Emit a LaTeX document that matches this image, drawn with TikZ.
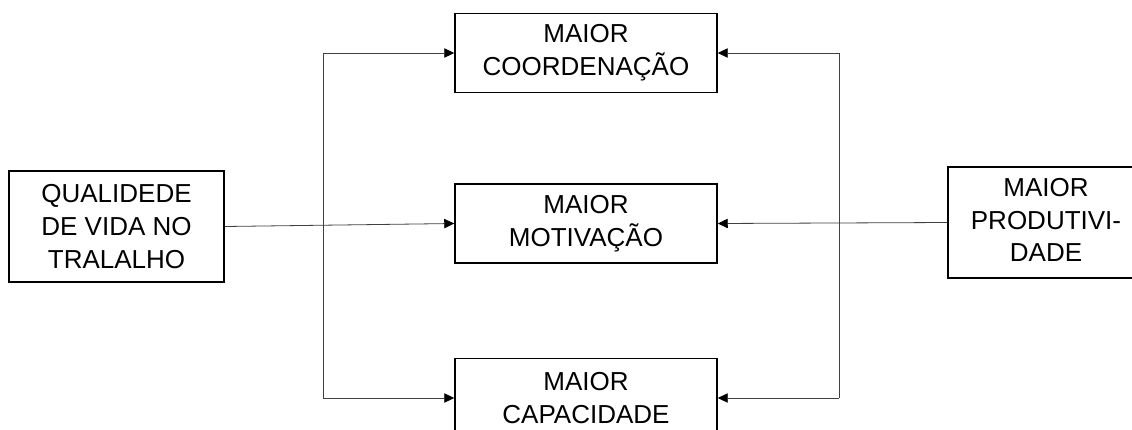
\documentclass[tikz,border=0pt]{standalone}
\usepackage{fontspec}
\setmainfont{Liberation Sans}
\usetikzlibrary{arrows.meta}
\tikzset{
  box/.style={draw=black, line width=1.1pt, align=center, inner sep=0pt,
    font=\fontsize{19.5}{24.5}\selectfont, minimum height=59.25pt},
  conn/.style={draw=black!75, line width=0.6pt},
  arr/.style={conn, -{Triangle[length=7.5pt,width=7pt,color=black]}}
}
\begin{document}
\begin{tikzpicture}[x=0.75pt,y=-0.75pt]
\useasboundingbox (0,0) rectangle (1132,429);
\clip (0,0) rectangle (1132,429);
\fill[white] (0,0) rectangle (1132,429);

\node[box, minimum width=161.25pt, minimum height=83.25pt] (qv) at (116.5,226.5)
  {QUALIDEDE\\DE VIDA NO\\TRALALHO};
\node[box, minimum width=180pt, minimum height=83.25pt] (prod) at (1068,222.5)
  {\kern-33pt\begin{tabular}{@{}c@{}}MAIOR\\PRODUTIVI-\\DADE\end{tabular}};
\node[box, minimum width=196.5pt] (coord) at (586,53) {MAIOR\\COORDENAÇÃO};
\node[box, minimum width=196.5pt] (mot) at (586,223.5) {MAIOR\\MOTIVAÇÃO};
\node[box, minimum width=196.5pt] (cap) at (586,398) {MAIOR\\CAPACIDADE};

\coordinate (ltop) at (323,53);
\coordinate (lbot) at (323,398);
\coordinate (rtop) at (839,53);
\coordinate (rbot) at (839,398);

\draw[conn] (ltop) -- (lbot);
\draw[conn] (rtop) -- (rbot);
\draw[arr] (ltop) -- (coord.west);
\draw[arr] (lbot) -- (cap.west);
\draw[arr] (rtop) -- (coord.east);
\draw[arr] (rbot) -- (cap.east);
\draw[arr] (qv.east) -- (mot.west);
\draw[arr] (prod.west) -- (mot.east);
\end{tikzpicture}
\end{document}
